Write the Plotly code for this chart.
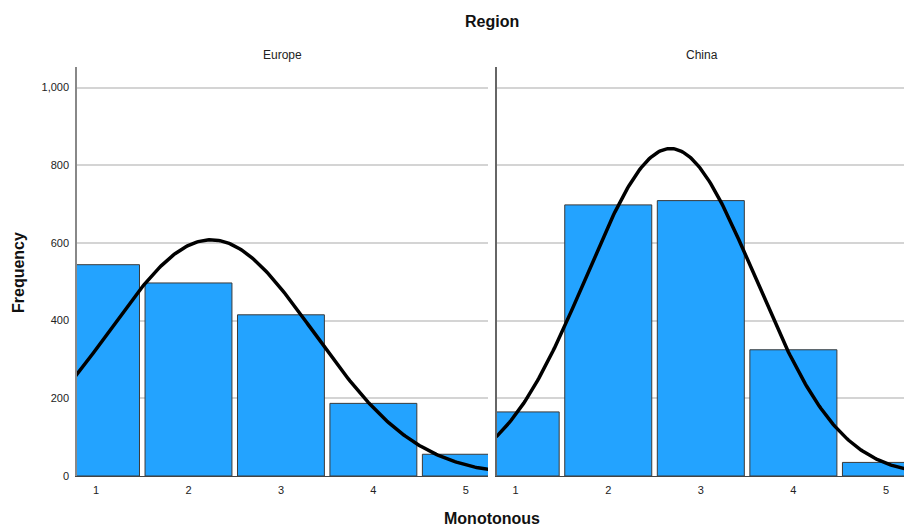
import numpy as np
import plotly.graph_objects as go

# Frequencies of "Monotonous" ratings (1-5) per region
scores = [1, 2, 3, 4, 5]
europe_counts = [544, 497, 415, 187, 56]
china_counts = [165, 698, 709, 325, 35]
regions = ["Europe", "China"]
y_ticks = [0, 200, 400, 600, 800, 1000]
y_tick_labels = ["0", "200", "400", "600", "800", "1,000"]

BAR_FILL = "#23A3FF"
BAR_LINE = "#3a3a3a"
FONT = "Liberation Sans, Arial, sans-serif"

W, H = 904, 528
M_L, M_R, M_T, M_B = 77, 0, 67, 52


def normal_curve(values, counts, x):
    v = np.asarray(values, float)
    c = np.asarray(counts, float)
    n = c.sum()
    mu = (v * c).sum() / n
    sd = np.sqrt((c * (v - mu) ** 2).sum() / n)
    return n / (sd * np.sqrt(2 * np.pi)) * np.exp(-0.5 * ((x - mu) / sd) ** 2)


fig = go.Figure()

x_ranges = {"x": [0.794, 5.24], "x2": [0.795, 5.195]}
for axis, counts in (("x", europe_counts), ("x2", china_counts)):
    yaxis = "y" if axis == "x" else "y2"
    fig.add_trace(go.Bar(
        x=scores, y=counts, width=0.94,
        marker=dict(color=BAR_FILL, line=dict(color=BAR_LINE, width=1)),
        xaxis=axis, yaxis=yaxis, showlegend=False, hoverinfo="x+y",
    ))
    xs = np.linspace(0.5, 5.5, 300)
    fig.add_trace(go.Scatter(
        x=xs, y=normal_curve(scores, counts, xs), mode="lines",
        line=dict(color="black", width=3.5),
        xaxis=axis, yaxis=yaxis, showlegend=False, hoverinfo="skip",
    ))

axis_common = dict(
    tickfont=dict(family=FONT, size=11, color="#222"),
    ticks="", showline=True, zeroline=False,
)

fig.update_layout(
    width=W, height=H,
    margin=dict(l=M_L, r=M_R, t=M_T, b=M_B),
    paper_bgcolor="white", plot_bgcolor="white",
    font=dict(family=FONT),
    xaxis=dict(domain=[0, 0.497], range=x_ranges["x"], tickvals=scores,
               showgrid=False, linecolor="#444", linewidth=1,
               ticklabelstandoff=4, **axis_common),
    xaxis2=dict(domain=[0.5075, 1], range=x_ranges["x2"], tickvals=scores,
                showgrid=False, linecolor="#444", linewidth=1,
                ticklabelstandoff=4, **axis_common),
    yaxis=dict(range=[0, 1053], tickvals=y_ticks, ticktext=y_tick_labels,
               showgrid=True, gridcolor="#d4d4d4", gridwidth=1.5,
               linecolor="#888", linewidth=1.5, ticklabelstandoff=4, **axis_common),
    yaxis2=dict(range=[0, 1053], anchor="x2", tickvals=y_ticks, showticklabels=False,
                showgrid=True, gridcolor="#d4d4d4", gridwidth=1.5,
                linecolor="#666", linewidth=1.5, **axis_common),
    bargap=0.06,
)

# Titles placed by pixel position, converted to paper coordinates
annotations = [
    dict(text="<b>Region</b>", x=492, y=21, font=dict(size=16, color="#111")),
    dict(text=regions[0], x=282, y=55, font=dict(size=12, color="#222")),
    dict(text=regions[1], x=702, y=55, font=dict(size=12, color="#222")),
    dict(text="<b>Monotonous</b>", x=492, y=518, font=dict(size=16, color="#111")),
    dict(text="<b>Frequency</b>", x=18, y=273, textangle=-90, font=dict(size=16, color="#111")),
]
plot_w = W - M_L - M_R
plot_h = H - M_T - M_B
for a in annotations:
    fig.add_annotation(
        text=a["text"],
        x=(a["x"] - M_L) / plot_w, y=(H - M_B - a["y"]) / plot_h,
        xref="paper", yref="paper", xanchor="center", yanchor="middle",
        showarrow=False, textangle=a.get("textangle", 0),
        font=dict(family=FONT, **a["font"]),
    )

fig.write_html("out.html")
